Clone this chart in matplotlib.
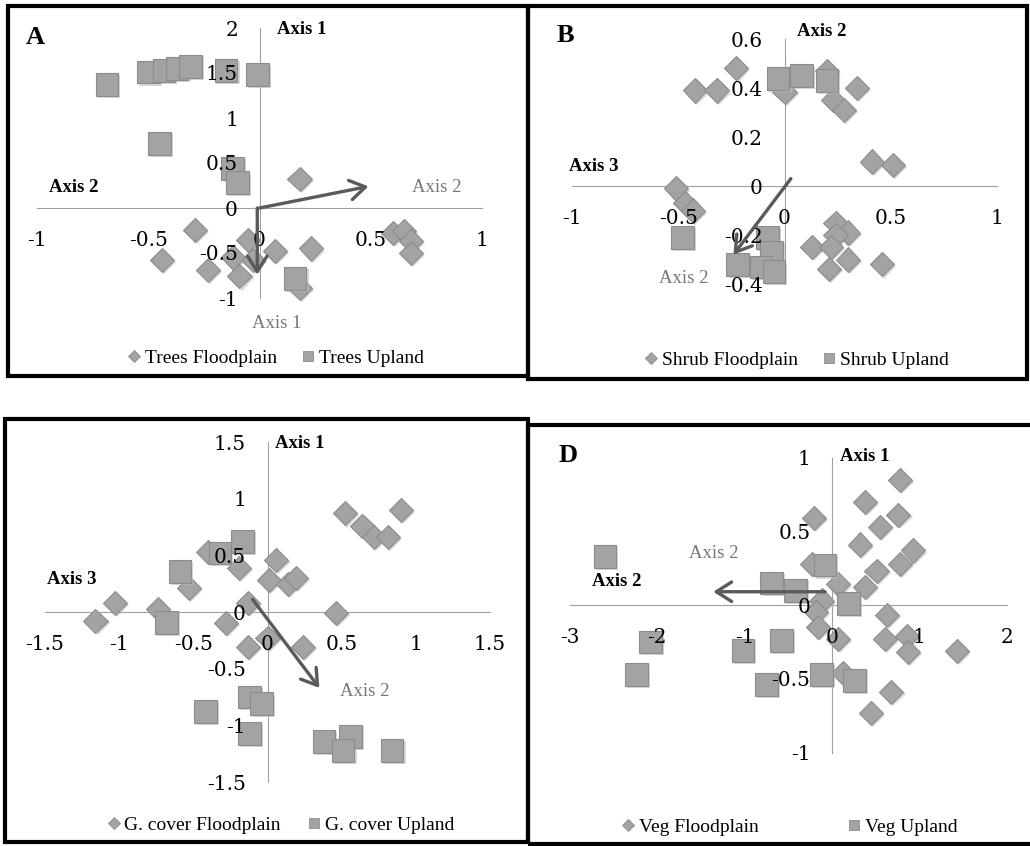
import matplotlib
matplotlib.use("Agg")
import matplotlib.pyplot as plt
from matplotlib.lines import Line2D
from matplotlib.patches import Rectangle
from matplotlib.ticker import FixedLocator, FuncFormatter
import matplotlib.patheffects as pe

plt.rcParams['axes.unicode_minus'] = False

W, H = 1030, 846

# ---------------- data ----------------
# Panel A: Trees (x = Axis 2, y = Axis 1)
trees_fp_x = [0.18, -0.29, -0.44, -0.23, -0.09, -0.05, -0.03, 0.07, 0.23, 0.18, 0.60, 0.65, 0.68, 0.68, -0.12]
trees_fp_y = [0.32, -0.24, -0.58, -0.69, -0.76, -0.36, -0.58, -0.48, -0.45, -0.89, -0.28, -0.26, -0.37, -0.50, -0.55]
trees_up_x = [-0.685, -0.50, -0.43, -0.37, -0.31, -0.15, -0.01, -0.45, -0.12, -0.10, 0.16]
trees_up_y = [1.37, 1.51, 1.53, 1.55, 1.57, 1.53, 1.48, 0.72, 0.44, 0.28, -0.78]
trees_xticks = [-1, -0.5, 0, 0.5, 1]
trees_yticks = [-1, -0.5, 0, 0.5, 1, 1.5, 2]
trees_arrows = [((0.0, 0.0), (0.49, 0.24)), ((-0.01, 0.0), (-0.01, -0.74))]

# Panel B: Shrub (x = Axis 3, y = Axis 2)
shrub_fp_x = [-0.23, -0.42, -0.32, 0.20, 0.34, 0.23, 0.28, 0.00, 0.41, 0.51, -0.51, -0.47, -0.43,
              0.24, 0.30, 0.24, 0.13, 0.22, 0.30, 0.21, 0.46]
shrub_fp_y = [0.48, 0.39, 0.39, 0.47, 0.40, 0.35, 0.31, 0.385, 0.10, 0.086, -0.01, -0.07, -0.10,
              -0.15, -0.19, -0.20, -0.25, -0.25, -0.30, -0.34, -0.32]
shrub_up_x = [-0.03, 0.08, 0.20, -0.48, -0.08, -0.06, -0.22, -0.11, -0.05]
shrub_up_y = [0.44, 0.45, 0.43, -0.21, -0.21, -0.27, -0.32, -0.33, -0.35]
shrub_xticks = [-1, -0.5, 0, 0.5, 1]
shrub_yticks = [-0.4, -0.2, 0, 0.2, 0.4, 0.6]
shrub_arrows = [((0.03, 0.03), (-0.24, -0.28))]

# Panel C: Ground cover (x = Axis 3, y = Axis 1)
gc_fp_x = [0.52, 0.64, 0.72, 0.81, 0.90, -0.40, -0.19, 0.06, 0.01, 0.14, 0.19, -0.53, -1.03, -1.16,
           -0.74, -0.13, -0.28, 0.46, -0.13, 0.00, 0.24]
gc_fp_y = [0.87, 0.76, 0.66, 0.66, 0.90, 0.53, 0.39, 0.46, 0.28, 0.25, 0.30, 0.21, 0.08, -0.08,
           0.03, 0.08, -0.10, -0.01, -0.31, -0.23, -0.31]
gc_up_x = [-0.17, -0.32, -0.59, -0.68, -0.42, -0.12, -0.04, -0.12, 0.38, 0.56, 0.51, 0.84]
gc_up_y = [0.62, 0.52, 0.36, -0.09, -0.88, -0.75, -0.81, -1.07, -1.14, -1.10, -1.22, -1.22]
gc_xticks = [-1.5, -1, -0.5, 0, 0.5, 1, 1.5]
gc_yticks = [-1.5, -1, -0.5, 0, 0.5, 1, 1.5]
gc_arrows = [((-0.10, 0.11), (0.35, -0.67))]

# Panel D: Vegetation (x = Axis 2, y = Axis 1)
veg_fp_x = [0.78, 0.38, 0.76, 0.55, 0.32, -0.21, 0.93, 0.78, 0.51, 0.38, 0.07, -0.23, -0.12, -0.18,
            -0.16, 0.07, 0.63, 0.61, 0.86, 0.87, 1.43, 0.13, 0.68, 0.45]
veg_fp_y = [0.85, 0.70, 0.61, 0.53, 0.41, 0.59, 0.37, 0.28, 0.23, 0.12, 0.14, 0.28, 0.03, -0.05,
            -0.15, -0.23, -0.07, -0.23, -0.21, -0.32, -0.31, -0.46, -0.59, -0.73]
veg_up_x = [-2.60, -0.08, -0.69, -0.42, 0.19, -2.08, -1.02, -0.58, -2.24, -0.75, -0.12, 0.26]
veg_up_y = [0.33, 0.27, 0.15, 0.10, 0.01, -0.25, -0.31, -0.24, -0.47, -0.54, -0.47, -0.51]
veg_xticks = [-3, -2, -1, 0, 1, 2]
veg_yticks = [-1, -0.5, 0, 0.5, 1]
veg_arrows = [((-0.08, 0.09), (-1.36, 0.09))]

# ---------------- style ----------------
FACE = '#a3a3a3'
EDGE = '#8c8c8c'
ARROW = '#5a5a5a'
AXIS_C = '#a0a0a0'
TICK_FONT = 'DejaVu Serif'
TXT_FONT = 'Liberation Serif'

fig = plt.figure(figsize=(W / 100, H / 100), dpi=100)
fig.patch.set_facecolor('white')


def add_axes_px(left, right, top, bottom):
    return fig.add_axes([left / W, 1 - bottom / H, (right - left) / W, (bottom - top) / H])


def ftext(px, py, s, **kw):
    fig.text(px / W, 1 - py / H, s, **kw)


shadow = [pe.SimplePatchShadow(offset=(1.5, -1.5), shadow_rgbFace='#bdbdbd', alpha=0.6), pe.Normal()]


def panel(ax, fx, fy, ux, uy, xticks, yticks, arrows):
    ax.set_xlim(xticks[0], xticks[-1])
    ax.set_ylim(yticks[0], yticks[-1])
    ax.patch.set_alpha(0)
    for s in ['top', 'right']:
        ax.spines[s].set_visible(False)
    for s in ['left', 'bottom']:
        ax.spines[s].set_position('zero')
        ax.spines[s].set_color(AXIS_C)
        ax.spines[s].set_linewidth(0.8)
        ax.spines[s].set_zorder(0.5)
    ax.xaxis.set_major_locator(FixedLocator(xticks))
    ax.yaxis.set_major_locator(FixedLocator(yticks))
    fmt = FuncFormatter(lambda v, p: ('%g' % v))
    ax.xaxis.set_major_formatter(fmt)
    ax.yaxis.set_major_formatter(fmt)
    ax.tick_params(axis='x', length=0, pad=16.5, labelsize=14.5)
    ax.tick_params(axis='y', length=0, pad=15.5, labelsize=14.5)
    for lab in ax.get_xticklabels() + ax.get_yticklabels():
        lab.set_fontfamily(TICK_FONT)
    ax.xaxis.set_zorder(3)
    ax.yaxis.set_zorder(3)
    ax.plot(fx, fy, linestyle='none', marker='D', markersize=12.3, markerfacecolor=FACE,
            markeredgecolor=EDGE, markeredgewidth=0.8, zorder=2, clip_on=False, path_effects=shadow)
    ax.plot(ux, uy, linestyle='none', marker='s', markersize=16.3, markerfacecolor=FACE,
            markeredgecolor=EDGE, markeredgewidth=0.8, zorder=2.1, clip_on=False, path_effects=shadow)
    for (x0, y0), (x1, y1) in arrows:
        ax.annotate('', xy=(x1, y1), xytext=(x0, y0), zorder=4,
                    arrowprops=dict(arrowstyle='->,head_length=0.55,head_width=0.35',
                                    mutation_scale=20, color=ARROW, lw=2.4,
                                    shrinkA=0, shrinkB=0))


def legend(ax, cx, cy, lab1, lab2, colsp):
    h1 = Line2D([], [], linestyle='none', marker='D', markersize=6, markerfacecolor=FACE,
                markeredgecolor=EDGE, markeredgewidth=0.6)
    h2 = Line2D([], [], linestyle='none', marker='s', markersize=7, markerfacecolor=FACE,
                markeredgecolor=EDGE, markeredgewidth=0.6)
    ax.legend([h1, h2], [lab1, lab2], loc='center', bbox_to_anchor=(cx / W, 1 - cy / H),
              bbox_transform=fig.transFigure, ncol=2, frameon=False, handlelength=0.6,
              handletextpad=0.25, columnspacing=colsp, borderpad=0,
              prop=dict(family=TXT_FONT, size=14))


axA = add_axes_px(37, 482, 28, 298)
panel(axA, trees_fp_x, trees_fp_y, trees_up_x, trees_up_y, trees_xticks, trees_yticks, trees_arrows)
legend(axA, 276, 358, 'Trees Floodplain', 'Trees Upland', 1.3)

axB = add_axes_px(572, 997, 39, 284)
panel(axB, shrub_fp_x, shrub_fp_y, shrub_up_x, shrub_up_y, shrub_xticks, shrub_yticks, shrub_arrows)
legend(axB, 797, 360, 'Shrub Floodplain', 'Shrub Upland', 1.3)

axC = add_axes_px(45, 490, 442, 782)
panel(axC, gc_fp_x, gc_fp_y, gc_up_x, gc_up_y, gc_xticks, gc_yticks, gc_arrows)
legend(axC, 281, 825, 'G. cover Floodplain', 'G. cover Upland', 1.4)

axD = add_axes_px(570, 1006.7, 457.5, 752.5)
panel(axD, veg_fp_x, veg_fp_y, veg_up_x, veg_up_y, veg_xticks, veg_yticks, veg_arrows)
legend(axD, 790, 827, 'Veg Floodplain', 'Veg Upland', 4.6)

# ---------------- labels ----------------
bold = dict(family=TXT_FONT, weight='bold', ha='center', va='center', color='black')
grey = dict(family=TXT_FONT, ha='center', va='center', color='#777777', size=13.5)

ftext(35, 37, 'A', size=19, **bold)
ftext(302, 29, 'Axis 1', size=13.5, **bold)
ftext(74, 188, 'Axis 2', size=13.5, **bold)
ftext(437, 188, 'Axis 2', **grey)
ftext(277, 323, 'Axis 1', **grey)

ftext(565, 36, 'B', size=19, **bold)
ftext(821.7, 31.7, 'Axis 2', size=13.5, **bold)
ftext(594, 166.7, 'Axis 3', size=13.5, **bold)
ftext(683.3, 278.3, 'Axis 2', **grey)

ftext(299.3, 443.3, 'Axis 1', size=13.5, **bold)
ftext(71.7, 580, 'Axis 3', size=13.5, **bold)
ftext(365, 691.7, 'Axis 2', **grey)

ftext(568.3, 455, 'D', size=19, **bold)
ftext(865, 456.7, 'Axis 1', size=13.5, **bold)
ftext(616.7, 581.7, 'Axis 2', size=13.5, **bold)
ftext(713.3, 553.3, 'Axis 2', **grey)

# ---------------- panel borders ----------------
def border(x0, y0, x1, y1):
    fig.add_artist(Rectangle((x0 / W, 1 - y1 / H), (x1 - x0) / W, (y1 - y0) / H,
                             transform=fig.transFigure, fill=False, edgecolor='black',
                             linewidth=3.0, zorder=10))

border(8, 6, 528, 376)
border(528, 6, 1027, 379)
border(5, 419, 528, 842)
border(528, 425, 1034, 844)

fig.savefig('out.png', dpi=100, facecolor='white')
